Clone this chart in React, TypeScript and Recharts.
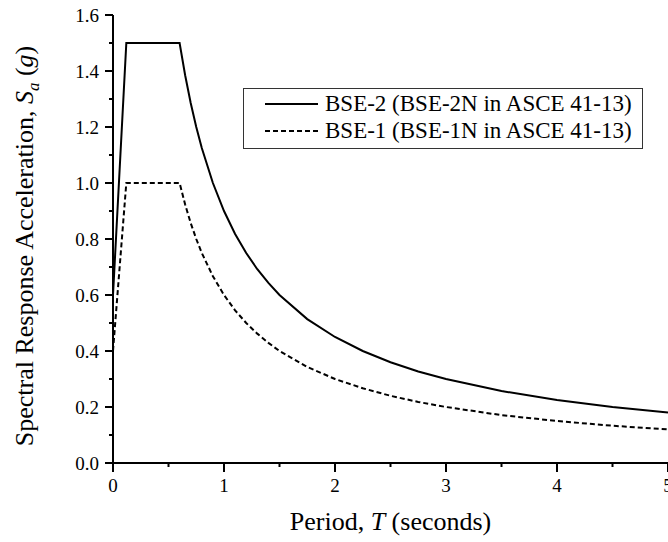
import React from "react";
import { LineChart, Line, XAxis, YAxis, Legend } from "recharts";

// Period T (s) and spectral acceleration Sa (g)
const PERIODS = [
  0, 0.12, 0.6, 0.65, 0.7, 0.75, 0.8, 0.9, 1.0, 1.1, 1.2, 1.3, 1.4, 1.5,
  1.75, 2.0, 2.25, 2.5, 2.75, 3.0, 3.5, 4.0, 4.5, 5.0,
];
const BSE2 = [
  0.6, 1.5, 1.5, 1.385, 1.286, 1.2, 1.125, 1.0, 0.9, 0.818, 0.75, 0.692,
  0.643, 0.6, 0.514, 0.45, 0.4, 0.36, 0.327, 0.3, 0.257, 0.225, 0.2, 0.18,
];
const BSE1 = [
  0.4, 1.0, 1.0, 0.923, 0.857, 0.8, 0.75, 0.667, 0.6, 0.545, 0.5, 0.462,
  0.429, 0.4, 0.343, 0.3, 0.267, 0.24, 0.218, 0.2, 0.171, 0.15, 0.133, 0.12,
];

const X_TICKS = [0, 0.5, 1, 1.5, 2, 2.5, 3, 3.5, 4, 4.5, 5];
const Y_TICKS = [
  0, 0.1, 0.2, 0.3, 0.4, 0.5, 0.6, 0.7, 0.8, 0.9, 1.0, 1.1, 1.2, 1.3, 1.4,
  1.5, 1.6,
];

const SERIES = [
  { key: "bse2", label: "BSE-2 (BSE-2N in ASCE 41-13)", dash: undefined },
  { key: "bse1", label: "BSE-1 (BSE-1N in ASCE 41-13)", dash: "5 3" },
];

const FONT = "Liberation Serif";
const MINOR = 4; // built-in tick length; majors get extended below

const data = PERIODS.map((t, i) => ({ t, bse2: BSE2[i], bse1: BSE1[i] }));

// x, y arrive at the end of the built-in (minor length) tick line
function XTick(props: any) {
  const { x, y, payload } = props;
  const v = payload.value;
  const major = Number.isInteger(v);
  return (
    <g>
      {major && <line x1={x} x2={x} y1={y - 1} y2={y + 5} stroke="#000" strokeWidth={2} />}
      {major && (
        <text x={x} y={y + 25} textAnchor="middle" fontSize={19} fontFamily={FONT} fill="#000">
          {v}
        </text>
      )}
    </g>
  );
}

function YTick(props: any) {
  const { x, y, payload } = props;
  const v = payload.value;
  const major = Math.round(v * 10) % 2 === 0;
  return (
    <g>
      {major && <line x1={x - 4} x2={x + 1} y1={y} y2={y} stroke="#000" strokeWidth={2} />}
      {major && (
        <text x={x - 10} y={y} dy="0.35em" textAnchor="end" fontSize={19} fontFamily={FONT} fill="#000">
          {v.toFixed(1)}
        </text>
      )}
    </g>
  );
}

function YTitle(props: any) {
  const vb = props.viewBox;
  const x = vb.x + 33;
  const y = vb.y + vb.height / 2 + 7;
  return (
    <text
      x={x}
      y={y}
      transform={`rotate(-90, ${x}, ${y})`}
      textAnchor="middle"
      fontSize={26}
      fontFamily={FONT}
      fill="#000"
    >
      Spectral Response Acceleration,{" "}
      <tspan fontStyle="italic">S</tspan>
      <tspan fontStyle="italic" fontSize={17} dy={6}>a</tspan>
      <tspan dy={-6}> (</tspan>
      <tspan fontStyle="italic">g</tspan>
      <tspan>)</tspan>
    </text>
  );
}

function XTitle(props: any) {
  const vb = props.viewBox;
  return (
    <text
      x={vb.x + vb.width / 2}
      y={vb.y + 67}
      textAnchor="middle"
      fontSize={26}
      fontFamily={FONT}
      fill="#000"
    >
      Period, <tspan fontStyle="italic">T</tspan> (seconds)
    </text>
  );
}

function LegendBox() {
  return (
    <div
      style={{
        border: "1px solid #333",
        background: "#fff",
        padding: "1px 10px 4px 21px",
        fontFamily: FONT,
        fontSize: 23,
        lineHeight: "27px",
        color: "#000",
      }}
    >
      {SERIES.map((s) => (
        <div key={s.key} style={{ display: "flex", alignItems: "center", whiteSpace: "nowrap" }}>
          <svg width={53} height={10} style={{ marginRight: 7 }}>
            <line x1={0} x2={53} y1={5} y2={5} stroke="#000" strokeWidth={2} strokeDasharray={s.dash} />
          </svg>
          <span>{s.label}</span>
        </div>
      ))}
    </div>
  );
}

export default function App() {
  return (
    <div style={{ position: "absolute", left: 0, top: 0, width: 668, height: 542, background: "#fff", fontFamily: FONT }}>
      <LineChart width={668} height={542} data={data} margin={{ top: 15, right: 0, bottom: 0, left: 0 }}>
        <XAxis
          dataKey="t"
          type="number"
          domain={[0, 5]}
          ticks={X_TICKS}
          interval={0}
          tickSize={MINOR}
          tickMargin={0}
          tickLine={{ stroke: "#000", strokeWidth: 2 }}
          tick={<XTick />}
          axisLine={{ stroke: "#000", strokeWidth: 2 }}
          height={79}
          label={{ content: XTitle }}
        />
        <YAxis
          type="number"
          domain={[0, 1.6]}
          ticks={Y_TICKS}
          interval={0}
          tickSize={MINOR}
          tickMargin={0}
          tickLine={{ stroke: "#000", strokeWidth: 2 }}
          tick={<YTick />}
          axisLine={{ stroke: "#000", strokeWidth: 2 }}
          width={113}
          label={{ content: YTitle }}
        />
        <Legend
          layout="horizontal"
          verticalAlign="middle"
          align="center"
          content={<LegendBox />}
          wrapperStyle={{ left: 243, top: 88, width: "auto" }}
        />
        {SERIES.map((s) => (
          <Line
            key={s.key}
            dataKey={s.key}
            type="linear"
            stroke="#000"
            strokeWidth={2}
            strokeDasharray={s.dash}
            dot={false}
            activeDot={false}
            isAnimationActive={false}
          />
        ))}
      </LineChart>
    </div>
  );
}
